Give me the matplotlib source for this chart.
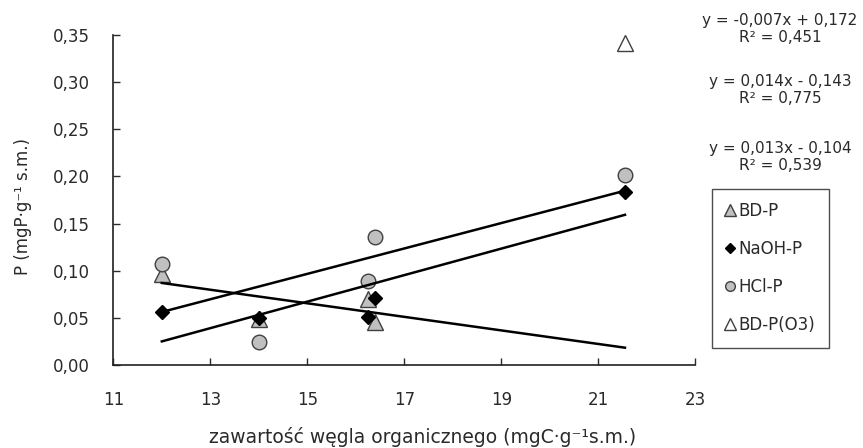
import numpy as np
import matplotlib
matplotlib.use("Agg")
import matplotlib.pyplot as plt
from matplotlib.lines import Line2D

plt.rcParams['font.family'] = ['DejaVu Sans']

# ---- data ----
x_vals = [12.0, 14.0, 16.25, 16.4, 21.55]
bdp = [0.097, 0.049, 0.070, 0.046, np.nan]
naoh = [0.056, 0.050, 0.051, 0.071, 0.184]
hcl = [0.107, 0.024, 0.089, 0.136, 0.201]
bdp_o3 = [np.nan, np.nan, np.nan, np.nan, 0.341]

series_names = ["BD-P", "NaOH-P", "HCl-P", "BD-P(O3)"]

# trend lines (BD-P, NaOH-P, HCl-P)
trend_slope = [-0.00719, 0.01406, 0.01347]
trend_intercept = [0.1733, -0.1437, -0.1054]
trend_xrange = [12.0, 21.55]

eq_texts = ["y = -0,007x + 0,172\nR² = 0,451",
            "y = 0,014x - 0,143\nR² = 0,775",
            "y = 0,013x - 0,104\nR² = 0,539"]

x_ticks = [11, 13, 15, 17, 19, 21, 23]
y_ticks = [0.00, 0.05, 0.10, 0.15, 0.20, 0.25, 0.30, 0.35]
y_tick_labels = ["0,00", "0,05", "0,10", "0,15", "0,20", "0,25", "0,30", "0,35"]

xlabel = "zawartość węgla organicznego (mgC·g⁻¹s.m.)"
ylabel = "P (mgP·g⁻¹ s.m.)"

# ---- figure ----
W, H = 863, 448
fig = plt.figure(figsize=(W / 100, H / 100), dpi=100)
ax = fig.add_axes([113.3 / W, 1 - 365 / H, (695.3 - 113.3) / W, (365 - 35) / H])

gray_fill = "#c0c0c0"
edge = "#404040"
txt_col = "#2a2a2a"

h_bdp, = ax.plot(x_vals, bdp, linestyle="none", marker="^", markersize=11.5,
                 markerfacecolor=gray_fill, markeredgecolor=edge, markeredgewidth=1.0)
h_naoh, = ax.plot(x_vals, naoh, linestyle="none", marker="D", markersize=7.0,
                  markerfacecolor="black", markeredgecolor="black", markeredgewidth=1.0)
h_hcl, = ax.plot(x_vals, hcl, linestyle="none", marker="o", markersize=10.5,
                 markerfacecolor=gray_fill, markeredgecolor=edge, markeredgewidth=1.0)
h_o3, = ax.plot(x_vals, bdp_o3, linestyle="none", marker="^", markersize=12,
                markerfacecolor="white", markeredgecolor=edge, markeredgewidth=1.0)

tx = np.array(trend_xrange)
for s, b in zip(trend_slope, trend_intercept):
    ax.plot(tx, s * tx + b, color="black", linewidth=1.8, zorder=5)

ax.set_xlim(11, 23)
ax.set_ylim(0, 0.35)
ax.set_xticks(x_ticks)
ax.set_yticks(y_ticks)
ax.set_yticklabels(y_tick_labels)
ax.tick_params(axis="both", direction="in", length=5, width=1, labelsize=12,
               colors=txt_col)
ax.tick_params(axis="x", pad=19)
ax.tick_params(axis="y", pad=17)
for sp in ["top", "right"]:
    ax.spines[sp].set_visible(False)
for sp in ["left", "bottom"]:
    ax.spines[sp].set_linewidth(1.2)
    ax.spines[sp].set_color("#202020")

ax.set_xlabel(xlabel, fontsize=13.5, va="center", color=txt_col)
ax.xaxis.set_label_coords(0.531, -0.218)
ax.set_ylabel(ylabel, fontsize=12, va="center", color=txt_col)
ax.yaxis.set_label_coords(-0.156, 0.479)

# equations
eq_y = [29, 90, 157]
for t, yy in zip(eq_texts, eq_y):
    fig.text(780 / W, 1 - yy / H, t, ha="center", va="center", fontsize=11,
             multialignment="center", linespacing=1.15, color=txt_col)

# legend
handles = [
    Line2D([], [], linestyle="none", marker="^", markersize=8, markerfacecolor=gray_fill,
           markeredgecolor=edge, markeredgewidth=1.0),
    Line2D([], [], linestyle="none", marker="D", markersize=5, markerfacecolor="black",
           markeredgecolor="black"),
    Line2D([], [], linestyle="none", marker="o", markersize=7, markerfacecolor=gray_fill,
           markeredgecolor=edge, markeredgewidth=1.0),
    Line2D([], [], linestyle="none", marker="^", markersize=8, markerfacecolor="white",
           markeredgecolor=edge, markeredgewidth=1.0),
]
leg = fig.legend(handles, series_names, loc="upper left",
                 bbox_to_anchor=(712 / W, 1 - 189 / H), fontsize=12,
                 frameon=True, fancybox=False, edgecolor="#202020",
                 handlelength=0.6, handletextpad=0.2, labelspacing=1.2,
                 borderpad=0.8, borderaxespad=0)
leg.get_frame().set_linewidth(1.0)
for t in leg.get_texts():
    t.set_color(txt_col)

fig.savefig("out.png", dpi=100)
